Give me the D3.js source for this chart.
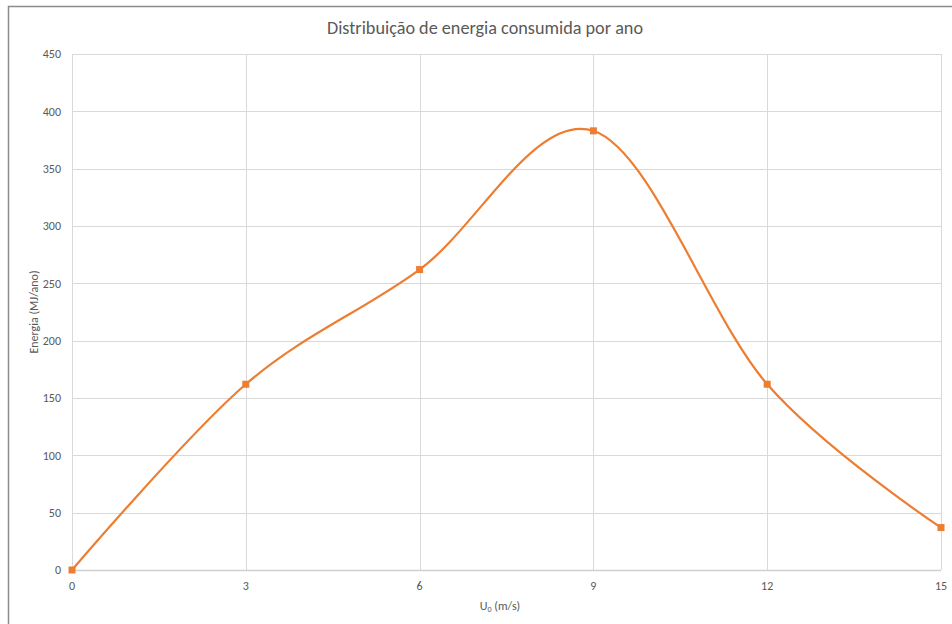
<!DOCTYPE html>
<html>
<head>
<meta charset="utf-8">
<script src="https://cdn.jsdelivr.net/npm/d3@7"></script>
<style>
html,body{margin:0;padding:0;background:#fff;}
svg{display:block;}
text{font-family:Carlito,"Liberation Sans Narrow","Open Sans",sans-serif;fill:#595959;}
</style>
</head>
<body>
<script>
const xValues = [0, 3, 6, 9, 12, 15];
const yValues = [0, 162, 262, 383, 162, 37];
const xTicks = [0, 3, 6, 9, 12, 15];
const yTicks = [0, 50, 100, 150, 200, 250, 300, 350, 400, 450];
const title = "Distribuição de energia consumida por ano";
const yTitle = "Energia (MJ/ano)";

const W = 952, H = 624;
const svg = d3.select("body").append("svg").attr("width", W).attr("height", H);

// frame
svg.append("path").attr("d", `M8.5,${H} V6.5 H${W}`).attr("fill","none").attr("stroke","#8c8c8c").attr("stroke-width",1.5);

const x = d3.scaleLinear().domain([0, 15]).range([72, 941]);
const y = d3.scaleLinear().domain([0, 450]).range([570, 54]);

// gridlines
const g = svg.append("g");
g.selectAll("line.h").data(yTicks).join("line")
  .attr("x1", x(0)).attr("x2", x(15))
  .attr("y1", d => Math.round(y(d)) + 0.5).attr("y2", d => Math.round(y(d)) + 0.5)
  .attr("stroke", "#d9d9d9").attr("stroke-width", 1);
g.selectAll("line.v").data(xTicks).join("line")
  .attr("y1", y(0)).attr("y2", y(450))
  .attr("x1", d => Math.round(x(d)) + 0.5).attr("x2", d => Math.round(x(d)) + 0.5)
  .attr("stroke", "#d9d9d9").attr("stroke-width", 1);
// x axis line
svg.append("line").attr("x1", x(0)).attr("x2", x(15)).attr("y1", Math.round(y(0))+0.5).attr("y2", Math.round(y(0))+0.5)
  .attr("stroke", "#d0d0d0").attr("stroke-width", 1.5);

// tick labels
svg.selectAll("text.yt").data(yTicks).join("text")
  .attr("x", 61).attr("y", d => y(d)).attr("dy", "0.35em")
  .attr("text-anchor", "end").attr("font-size", 12).text(d => d);
svg.selectAll("text.xt").data(xTicks).join("text")
  .attr("x", d => x(d)).attr("y", 590)
  .attr("text-anchor", "middle").attr("font-size", 12).text(d => d);

// titles
svg.append("text").attr("x", 485).attr("y", 34).attr("text-anchor", "middle")
  .attr("font-size", 18.2).text(title);
svg.append("text").attr("transform", "translate(38,312) rotate(-90)")
  .attr("text-anchor", "middle").attr("font-size", 12).text(yTitle);
const xt = svg.append("text").attr("x", 500).attr("y", 610).attr("text-anchor", "middle").attr("font-size", 12);
xt.append("tspan").text("U");
xt.append("tspan").attr("font-size", 8).attr("dy", 2).text("0");
xt.append("tspan").attr("dy", -2).text(" (m/s)");

// series
const pts = xValues.map((v, i) => [v, yValues[i]]);
const line = d3.line().x(d => x(d[0])).y(d => y(d[1])).curve(d3.curveCardinal.tension(0));
svg.append("path").datum(pts).attr("d", line)
  .attr("fill", "none").attr("stroke", "#ED7D31").attr("stroke-width", 2.2);
svg.selectAll("rect.m").data(pts).join("rect")
  .attr("x", d => x(d[0]) - 3.5).attr("y", d => y(d[1]) - 3.5)
  .attr("width", 7).attr("height", 7).attr("fill", "#ED7D31");
</script>
</body>
</html>
